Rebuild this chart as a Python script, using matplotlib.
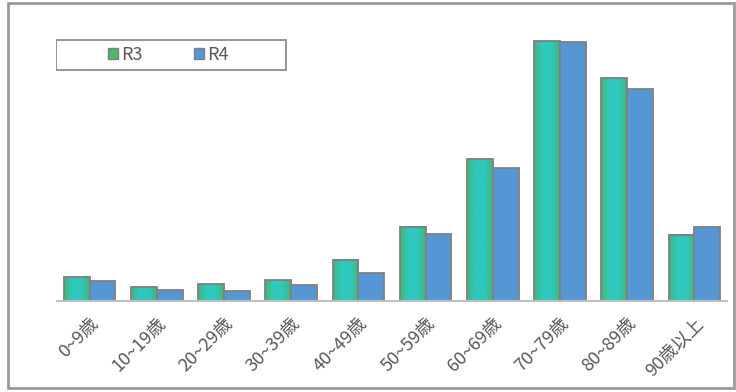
import numpy as np
import matplotlib.pyplot as plt
from matplotlib.colors import LinearSegmentedColormap
from matplotlib.patches import Rectangle, Patch

plt.rcParams['font.family'] = ['Noto Sans CJK JP', 'DejaVu Sans']

age_groups = ['0~9歳', '10~19歳', '20~29歳', '30~39歳', '40~49歳',
              '50~59歳', '60~69歳', '70~79歳', '80~89歳', '90歳以上']
r3 = [25, 15, 18, 22, 42, 75, 143, 261, 224, 67]
r4 = [21, 12, 11, 17, 29, 68, 134, 260, 213, 75]

W, H = 736, 392
fig = plt.figure(figsize=(W / 100, H / 100), dpi=100)
ax = fig.add_axes([56 / W, 1 - 302 / H, 672 / W, 282 / H])

edge = '#7f7f7f'
blue = '#5597d5'
grad = LinearSegmentedColormap.from_list('r3', ['#45b67a', '#2ec8bd', '#2ec8bd', '#45b67a'])
x = np.arange(len(age_groups))
w = 0.385

# R3 bars: horizontal green-teal-green gradient clipped to each bar
for xi, v in zip(x, r3):
    left = xi - w
    ax.imshow(np.linspace(0, 1, 64).reshape(1, -1), cmap=grad, aspect='auto',
              extent=(left, left + w, 0, v), zorder=2)
    ax.add_patch(Rectangle((left, 0), w, v, fill=False, ec=edge, lw=1.3, zorder=3))

ax.bar(x + w / 2, r4, w, color=blue, edgecolor=edge, linewidth=1.3, zorder=3)

ax.set_xlim(-0.5, 9.5)
ax.set_ylim(0, 282)
ax.axhline(0, color='#bfbfbf', lw=3, zorder=4)
for s in ax.spines.values():
    s.set_visible(False)
ax.set_yticks([])
ax.set_xticks(x)
ax.set_xticklabels(age_groups, rotation=45, ha='right', rotation_mode='anchor',
                   fontsize=13, color='#595959')
ax.tick_params(axis='x', length=0, pad=9)

# legend frame drawn by hand, entries centred inside it
box = (0, 1 - 50 / 282, 230 / 672, 30 / 282)
ax.add_patch(Rectangle(box[:2], box[2], box[3], transform=ax.transAxes,
                       fill=True, fc='white', ec='#8c8c8c', lw=1.3, zorder=5))
leg = ax.legend(handles=[Patch(fc='#4cb86a', ec=edge, label='R3'),
                         Patch(fc=blue, ec=edge, label='R4')],
                loc='center', bbox_to_anchor=(box[0] + box[2] / 2 - 0.004, box[1] + box[3] / 2),
                ncol=2, frameon=False, fontsize=13, handlelength=0.55,
                handleheight=0.55, handletextpad=0.15, columnspacing=2.9,
                labelcolor='#595959')
leg.set_zorder(6)

fig.add_artist(Rectangle((8 / W, 1 - 388 / H), 726 / W, 385 / H, fill=False,
                         ec='#9a9a9a', lw=2, transform=fig.transFigure))

fig.savefig('out.png', dpi=100)
